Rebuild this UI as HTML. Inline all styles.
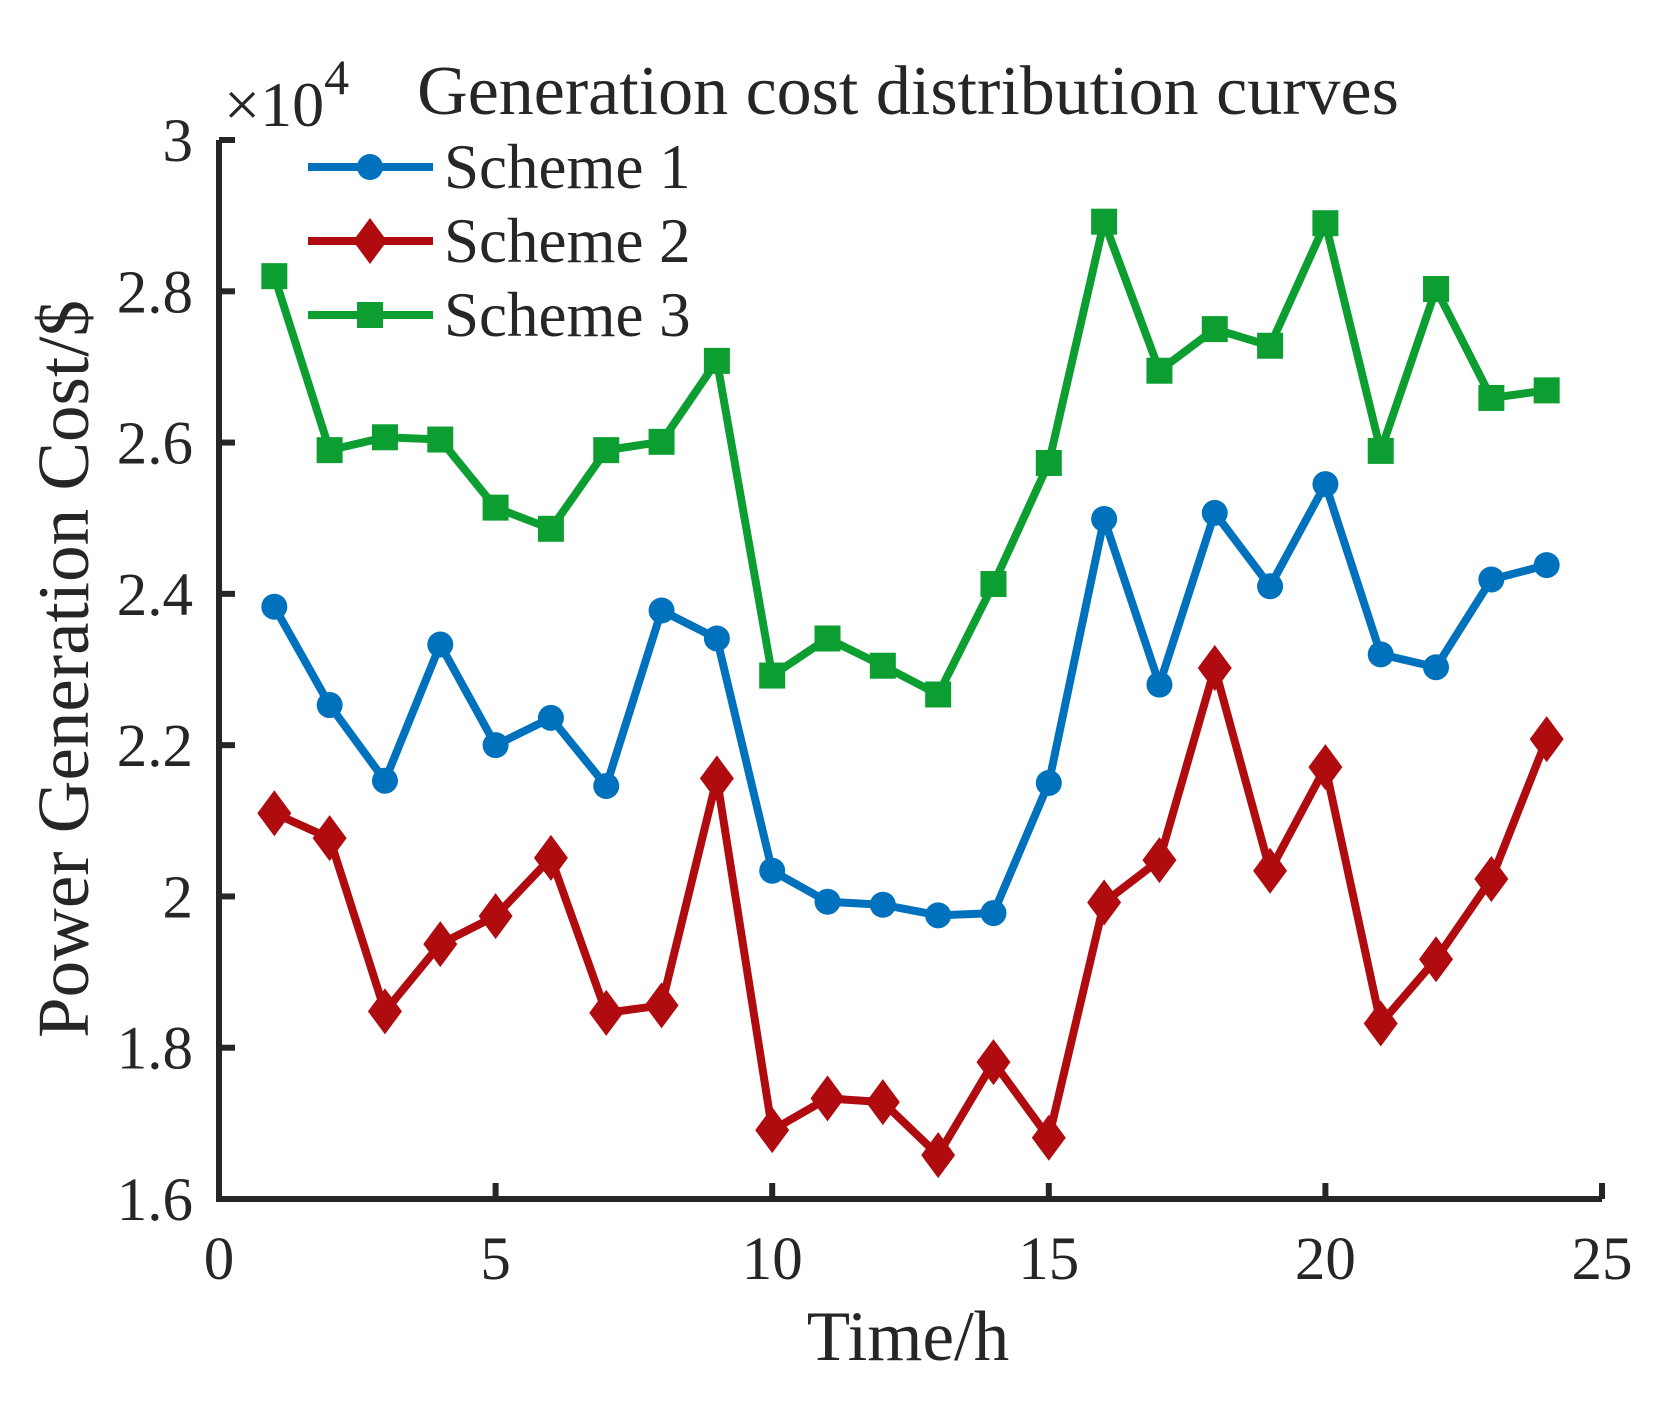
<!DOCTYPE html>
<html><head><meta charset="utf-8"><style>
body{margin:0;background:#fff}
svg text{font-family:"Liberation Serif",serif;fill:#262626}
</style></head><body>
<svg id="c" width="1669" height="1400" viewBox="0 0 1669 1400" xmlns="http://www.w3.org/2000/svg"></svg>
<script>
const hours=[1,2,3,4,5,6,7,8,9,10,11,12,13,14,15,16,17,18,19,20,21,22,23,24];
const scheme1=[2.383,2.253,2.153,2.333,2.200,2.236,2.146,2.378,2.341,2.034,1.993,1.989,1.975,1.978,2.150,2.499,2.280,2.507,2.410,2.545,2.320,2.303,2.419,2.438];
const scheme2=[2.110,2.077,1.848,1.937,1.974,2.051,1.846,1.856,2.156,1.691,1.733,1.728,1.658,1.781,1.681,1.992,2.048,2.302,2.034,2.171,1.832,1.917,2.023,2.208];
const scheme3=[2.820,2.590,2.607,2.604,2.514,2.486,2.590,2.601,2.708,2.292,2.341,2.305,2.267,2.413,2.573,2.892,2.695,2.750,2.728,2.890,2.589,2.803,2.659,2.669];
const xTicks=[0,5,10,15,20,25];
const yTicks=[1.6,1.8,2,2.2,2.4,2.6,2.8,3];
const seriesNames=["Scheme 1","Scheme 2","Scheme 3"];

const X0=219,X1=1602,Y0=1199,Y1=140;
const sx=v=>X0+(v-0)/(25-0)*(X1-X0);
const sy=v=>Y0-(v-1.6)/(3-1.6)*(Y0-Y1);
const NS="http://www.w3.org/2000/svg";
const svg=document.getElementById('c');
function mk(t,a,p){const e=document.createElementNS(NS,t);for(const k in a)e.setAttribute(k,a[k]);(p||svg).appendChild(e);return e;}

let ax=mk('path',{d:`M${X0},${Y1} V${Y0} H${X1}`,fill:'none',stroke:'#262626','stroke-width':6});


yTicks.forEach(v=>{
  let t=mk('line',{x1:X0,x2:X0+16,y1:sy(v),y2:sy(v),stroke:'#262626','stroke-width':6});
  
  
  let l=mk('text',{x:193,y:sy(v)+21,'text-anchor':'end','font-size':61});
  l.textContent=String(v);
  
  
});
xTicks.forEach(v=>{
  let t=mk('line',{x1:sx(v),x2:sx(v),y1:Y0,y2:Y0-16,stroke:'#262626','stroke-width':6});
  
  
  let l=mk('text',{x:sx(v),y:1279,'text-anchor':'middle','font-size':61});
  l.textContent=String(v);
  
  
});

function marker(kind,x,y,color,g){
  let e;
  if(kind==='o') e=mk('circle',{cx:x,cy:y,r:13,fill:color},g);
  else if(kind==='d') e=mk('polygon',{points:`${x},${y-23} ${x+17},${y} ${x},${y+23} ${x-17},${y}`,fill:color},g);
  else e=mk('rect',{x:x-13,y:y-13,width:26,height:26,fill:color},g);
  
  
}
const all=[[scheme1,'#0072BD','o'],[scheme2,'#B00B0E','d'],[scheme3,'#0D9E32','s']];
all.forEach(([data,color,kind],i)=>{
  let g=mk('g',{});
  
  
  let p=mk('polyline',{points:data.map((v,j)=>sx(hours[j])+','+sy(v)).join(' '),fill:'none',stroke:color,'stroke-width':8,'stroke-linejoin':'round'},g);
  
  
  data.forEach((v,j)=>marker(kind,sx(hours[j]),sy(v),color,g));
  let lg=mk('g',{});
  
  
  const ly=167+i*74;
  mk('line',{x1:308,x2:433,y1:ly,y2:ly,stroke:color,'stroke-width':8},lg);
  marker(kind,370,ly,color,lg);
  let t=mk('text',{x:444,y:ly+21,'font-size':63},lg);
  t.textContent=seriesNames[i];
});

let ti=mk('text',{x:908,y:114,'text-anchor':'middle','font-size':70});
ti.textContent='Generation cost distribution curves';


let ex=mk('text',{x:224,y:126,'font-size':64});
ex.innerHTML='×10<tspan dy="-32" font-size="50">4</tspan>';


let xl=mk('text',{x:908,y:1360,'text-anchor':'middle','font-size':71});
xl.textContent='Time/h';


let yl=mk('text',{x:0,y:0,'text-anchor':'middle','font-size':73,transform:'translate(88,669) rotate(-90)'});
yl.textContent='Power Generation Cost/$';


</script>
</body></html>
